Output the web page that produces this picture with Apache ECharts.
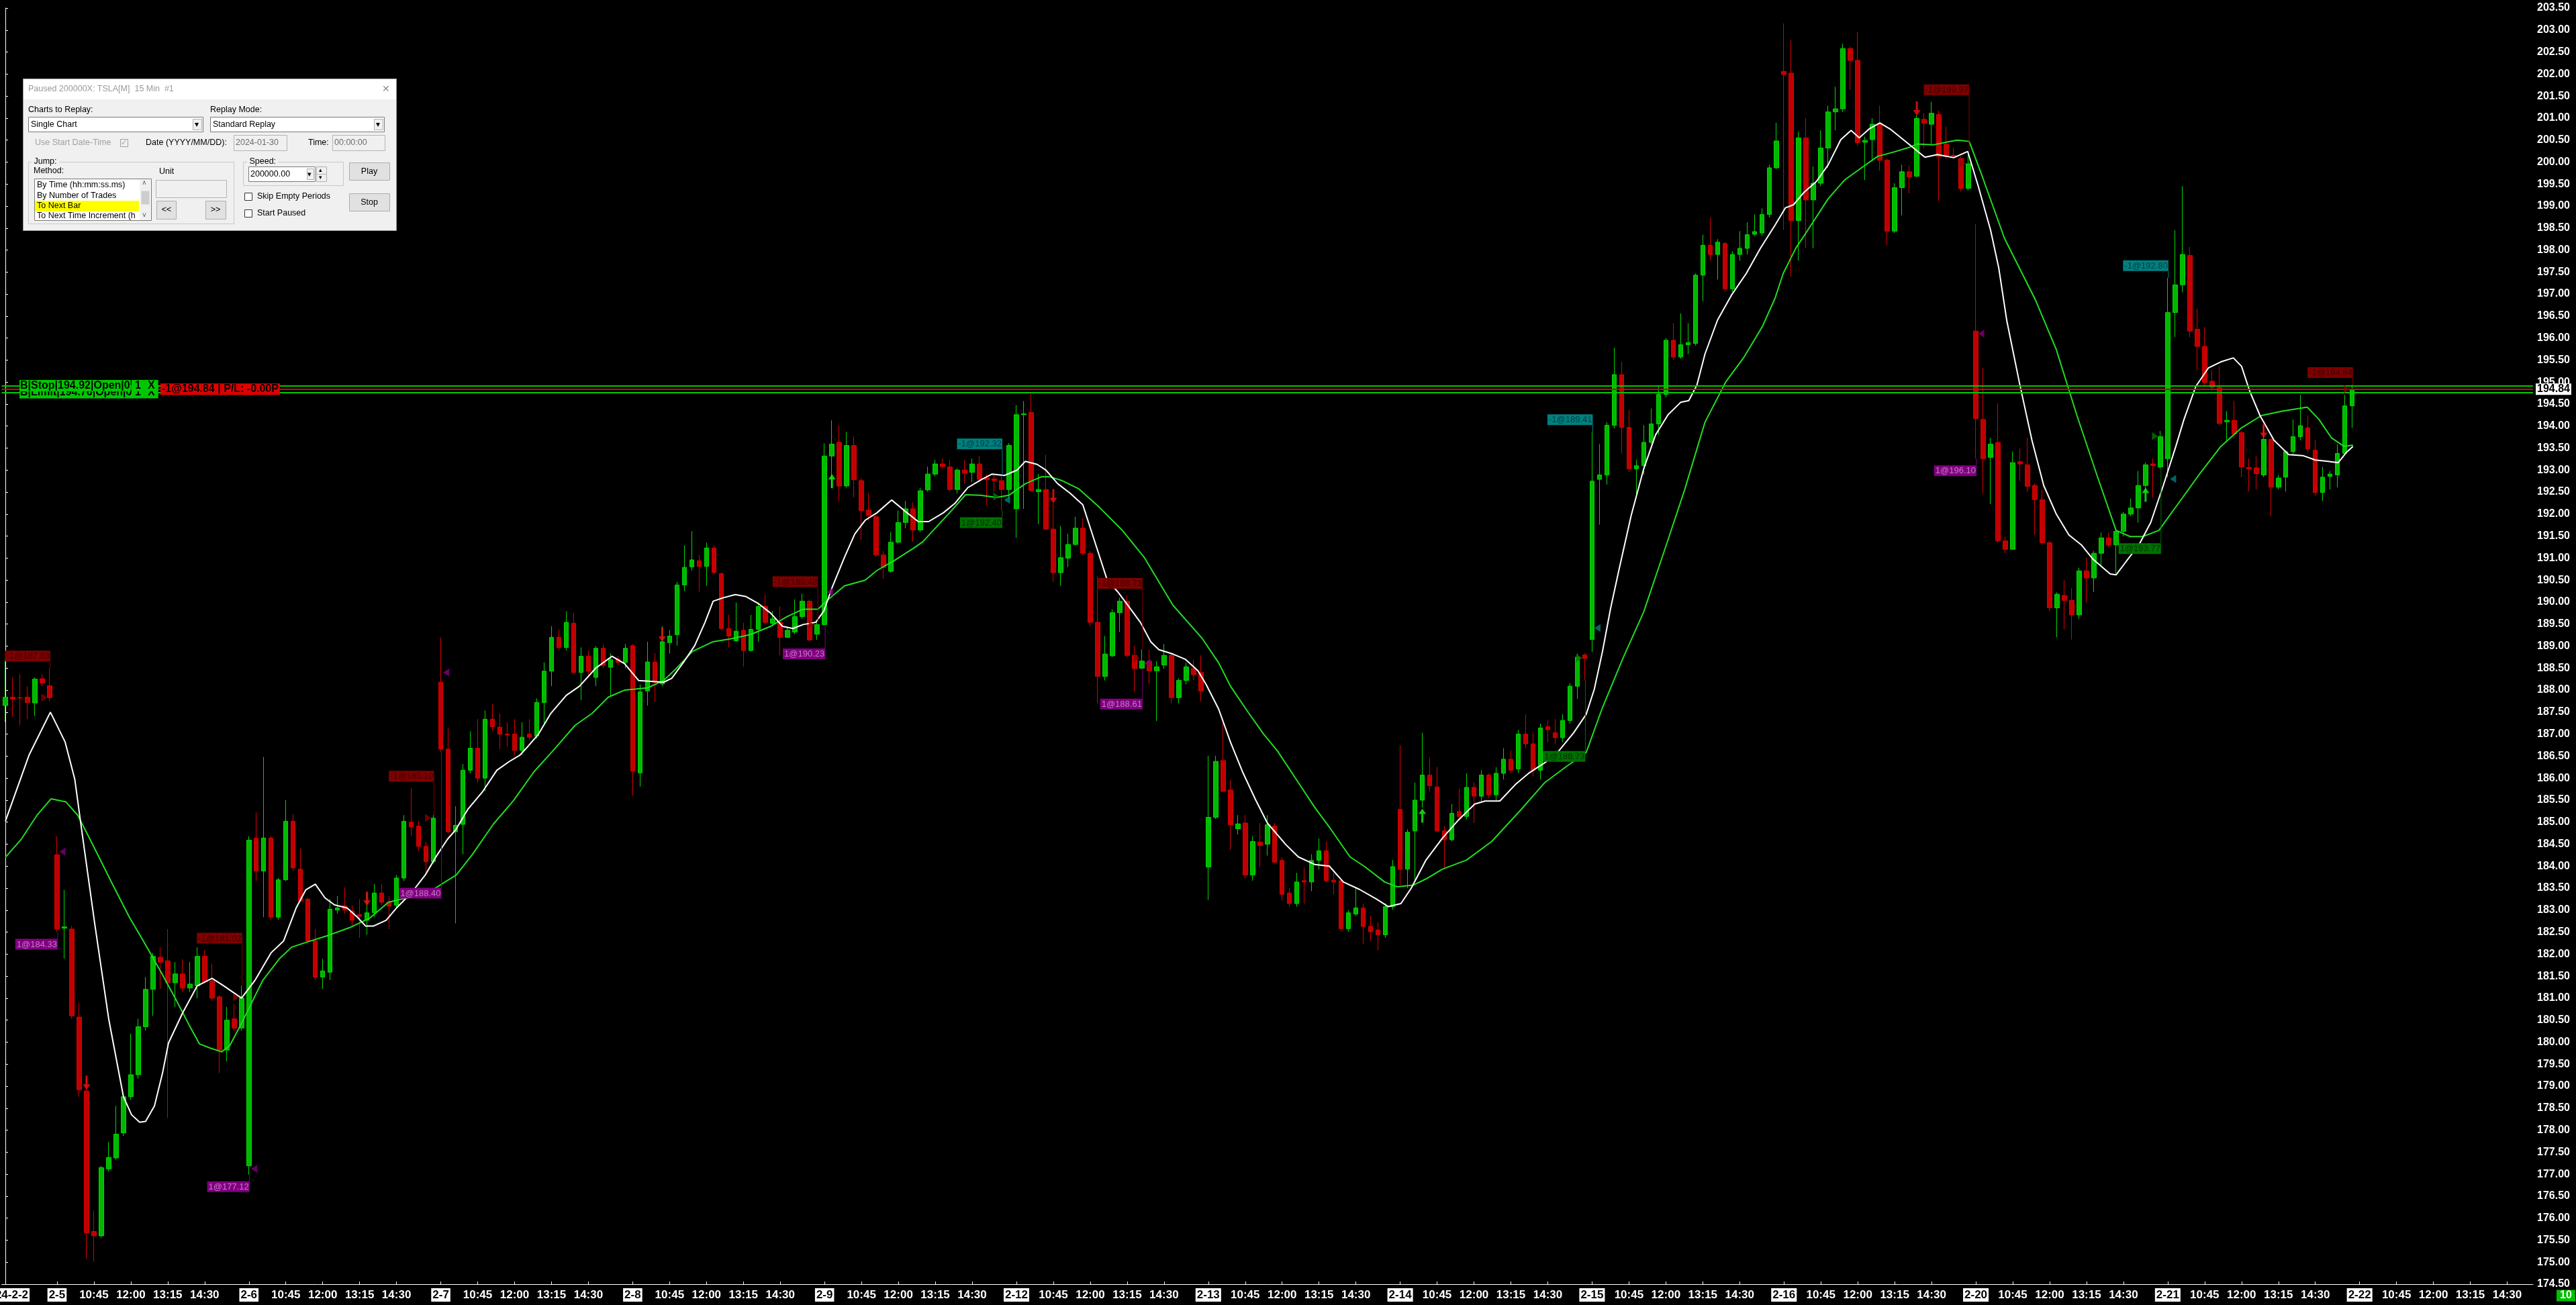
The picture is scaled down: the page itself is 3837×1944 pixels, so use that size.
<!DOCTYPE html>
<html><head><meta charset="utf-8">
<script src="https://cdn.jsdelivr.net/npm/echarts/dist/echarts.min.js"></script>
<style>html,body{margin:0;padding:0;background:#000;overflow:hidden}#c{width:3837px;height:1944px}</style>
</head><body><div id="c"></div>
<script>
// ---------- DATA: bars per day as [open, high, low, close] ----------
const d0202 = [[187.65,188.70,187.27,187.84],[187.84,188.29,187.40,187.80],[187.83,188.36,187.20,187.82],[187.84,188.09,187.34,187.72],[187.71,188.29,187.41,188.25],[188.26,188.36,188.09,188.16],[188.10,188.50,187.75,187.83]];
const d0205 = [[184.26,184.68,182.50,182.57],[182.59,183.46,181.90,182.62],[182.57,182.64,180.53,180.60],[180.57,180.90,178.76,178.92],[178.89,179.17,175.08,175.67],[175.70,176.17,175.01,175.60],[175.60,177.19,175.56,177.15],[177.12,177.73,177.06,177.38],[177.37,178.55,177.33,177.91],[177.94,178.82,177.87,178.76],[178.76,180.19,178.69,179.26],[179.26,180.53,179.17,180.35],[180.35,181.48,180.26,181.20],[181.20,182.03,180.60,181.95],[181.93,182.16,181.21,181.82],[181.85,182.57,178.28,181.35],[181.35,181.82,180.80,181.55],[181.55,181.89,181.14,181.23],[181.23,181.82,181.14,181.32],[181.28,182.16,181.00,181.95],[181.95,182.09,181.34,181.37],[181.39,181.78,180.94,181.00],[181.03,181.07,179.30,179.82],[179.82,180.80,179.57,180.50],[180.53,180.87,180.26,180.32],[180.32,181.28,180.26,181.00]];
const d0206 = [[177.19,184.68,176.99,184.59],[184.64,185.22,183.66,183.89],[183.89,186.48,182.84,184.64],[184.64,184.68,182.78,182.84],[182.84,183.73,182.78,183.69],[183.69,185.50,183.66,185.02],[185.02,185.18,183.89,183.96],[183.93,184.40,183.18,183.21],[183.25,183.28,182.27,182.30],[182.30,182.57,181.41,181.48],[181.48,181.89,181.21,181.62],[181.59,183.25,181.41,183.02],[183.00,183.32,182.92,183.05],[183.10,183.52,182.92,183.00],[182.98,183.11,182.64,182.77],[182.90,183.25,182.37,182.86],[182.77,183.39,182.44,182.94],[182.94,183.59,182.84,183.39],[183.39,183.59,183.11,183.18],[183.18,183.32,182.57,183.09],[183.11,183.80,183.05,183.73],[183.73,185.16,183.66,185.02],[185.00,185.77,184.68,184.89],[184.91,185.02,184.34,184.45],[184.45,184.55,183.86,184.10],[184.10,185.16,184.06,185.09]];
const d0207 = [[188.18,189.20,186.59,186.66],[186.66,187.13,184.75,184.78],[184.78,185.36,182.70,184.93],[184.95,186.32,184.27,186.18],[186.18,187.06,186.11,186.68],[186.68,187.34,185.90,186.00],[186.00,187.54,185.70,187.34],[187.34,187.68,187.07,187.17],[187.16,187.47,186.66,187.00],[187.00,187.27,186.72,186.98],[187.00,187.34,186.52,186.63],[186.63,187.27,186.52,186.93],[187.00,187.34,186.86,186.93],[186.96,187.81,186.90,187.72],[187.72,188.63,187.20,188.43],[188.43,189.45,188.09,189.20],[189.20,189.38,188.90,188.97],[188.97,189.79,188.90,189.54],[189.52,189.75,188.36,188.40],[188.40,188.97,187.77,188.77],[188.77,188.90,188.29,188.43],[188.29,189.00,188.09,188.95],[188.95,189.04,188.50,188.56],[188.52,188.84,187.88,188.69],[188.70,188.77,188.56,188.63],[188.63,189.05,188.50,188.95]];
const d0208 = [[189.01,189.05,185.60,186.16],[186.12,188.13,185.81,187.96],[187.98,189.10,187.65,188.64],[188.64,188.84,187.74,188.18],[188.14,189.45,188.09,189.10],[189.08,189.36,188.83,189.23],[189.26,190.46,189.01,190.39],[190.39,191.29,190.25,190.79],[190.80,191.61,190.72,190.96],[190.94,191.07,190.24,190.81],[190.81,191.35,190.37,191.23],[191.23,191.29,190.63,190.67],[190.65,190.67,189.36,189.40],[189.40,189.71,188.97,189.23],[189.12,189.99,189.10,189.34],[189.36,189.53,188.53,188.90],[188.90,189.71,188.88,189.38],[189.38,189.97,189.10,189.90],[189.90,190.17,189.49,189.54],[189.52,189.80,189.45,189.62],[189.54,189.90,188.79,189.20],[189.20,189.45,189.19,189.36],[189.32,190.06,189.27,189.67],[189.67,190.19,189.62,190.02],[190.02,190.06,189.10,189.14],[189.27,189.54,189.14,189.49]];
const d0209 = [[189.49,193.61,189.47,193.32],[193.32,194.13,192.60,193.59],[193.63,194.02,192.29,192.64],[192.64,193.87,192.60,193.56],[193.56,193.76,192.38,192.78],[192.76,192.82,191.42,192.08],[192.09,192.47,191.86,191.97],[191.94,191.99,191.02,191.07],[191.07,191.16,190.53,190.79],[190.70,191.59,190.67,191.36],[191.36,192.08,191.33,191.81],[191.81,192.30,191.68,192.12],[192.12,192.27,191.37,191.64],[191.64,192.60,191.59,192.53],[192.55,193.08,192.51,192.91],[192.91,193.23,192.86,193.14],[193.14,193.26,193.04,193.08],[193.07,193.23,192.51,192.56],[192.56,193.04,192.47,193.00],[193.00,193.23,192.69,192.93],[192.95,193.26,192.73,193.14],[193.14,193.32,192.73,192.79],[192.82,192.91,192.21,192.78],[192.80,192.91,192.51,192.76],[192.76,192.88,192.08,192.56],[192.56,193.61,192.34,193.56]];
const d0212 = [[192.12,194.48,191.46,194.26],[194.26,194.57,192.12,194.28],[194.31,194.75,192.51,192.54],[192.51,192.91,191.77,192.56],[192.56,193.35,191.64,191.66],[191.66,192.25,190.46,190.67],[190.67,191.73,190.37,191.01],[191.00,191.55,190.80,191.31],[191.31,191.94,191.29,191.68],[191.68,191.90,191.07,191.11],[191.11,191.16,189.45,189.54],[189.54,190.59,187.70,188.31],[188.31,189.23,188.22,188.82],[188.78,189.84,188.75,189.76],[189.76,190.10,189.32,190.02],[190.02,190.15,188.75,188.79],[188.79,189.01,187.96,188.49],[188.50,188.92,188.48,188.66],[188.66,188.92,188.13,188.44],[188.44,188.66,187.30,188.53],[188.57,189.05,188.48,188.79],[188.79,188.84,187.70,187.83],[187.83,188.27,187.70,188.22],[188.22,188.62,188.13,188.53],[188.49,188.70,188.22,188.35],[188.40,188.79,187.74,187.98]];
const d0213 = [[183.98,186.51,183.23,185.11],[185.11,186.51,185.07,186.38],[186.40,187.26,185.68,185.70],[185.73,185.96,184.37,184.94],[184.85,185.16,184.72,184.96],[184.98,185.16,183.71,183.80],[183.80,184.68,183.67,184.56],[184.55,184.98,183.98,184.47],[184.50,185.16,184.24,184.94],[184.91,184.98,184.07,184.09],[184.13,184.20,183.22,183.36],[183.39,183.50,183.08,183.15],[183.15,183.85,183.08,183.64],[183.67,183.97,183.15,183.64],[183.64,184.27,183.43,184.13],[184.13,184.63,183.92,184.35],[184.35,184.56,183.64,183.67],[183.68,183.85,183.36,183.64],[183.67,183.71,182.51,182.58],[182.58,183.00,182.51,182.94],[182.91,183.50,182.87,183.05],[183.05,183.15,182.23,182.63],[182.63,182.87,182.30,182.51],[182.55,182.72,182.09,182.44],[182.44,183.15,182.37,183.08],[183.08,184.14,183.01,183.99]];
const d0214 = [[185.29,186.75,183.57,183.93],[183.93,184.84,183.50,184.77],[184.80,185.90,183.64,185.50],[185.50,187.03,185.33,186.07],[186.07,186.47,185.69,185.83],[185.80,186.25,184.77,184.80],[184.80,184.91,183.93,184.60],[184.60,185.41,184.56,185.20],[185.24,185.76,185.06,185.13],[185.13,186.11,185.06,185.79],[185.79,185.90,184.98,185.59],[185.59,186.18,185.48,186.07],[186.07,186.11,185.55,185.62],[185.62,186.25,185.48,186.11],[186.11,186.68,185.97,186.43],[186.43,186.63,186.11,186.18],[186.21,187.10,186.11,187.00],[187.00,187.45,186.68,186.78],[186.78,187.03,186.04,186.18],[186.18,187.24,185.97,187.14],[187.17,187.31,186.82,187.10],[187.03,187.34,186.77,186.92],[186.92,187.45,186.82,187.31],[187.31,188.16,187.24,188.09],[188.09,188.83,187.80,188.75],[188.80,188.84,188.23,188.72]];
const d0215 = [[189.15,193.87,188.87,192.75],[192.79,193.59,191.76,192.89],[192.89,194.09,192.67,194.02],[194.02,195.78,193.95,195.17],[195.17,195.46,193.38,193.97],[193.97,194.37,192.96,193.03],[193.03,193.24,192.39,193.10],[193.10,194.02,192.89,193.63],[193.63,194.40,193.59,194.05],[194.05,194.93,193.80,194.72],[194.72,196.00,194.65,195.95],[195.95,196.34,195.50,195.57],[195.57,196.56,195.53,195.85],[195.85,196.34,195.64,195.90],[195.88,197.47,195.83,197.43],[197.43,198.35,196.84,198.11],[198.11,198.74,197.76,197.90],[197.90,198.25,197.33,198.18],[198.15,198.18,197.05,197.12],[197.12,197.97,197.05,197.90],[197.90,198.43,197.76,198.04],[198.04,198.63,197.90,198.35],[198.36,198.81,198.32,198.42],[198.39,198.95,198.32,198.81],[198.81,199.94,198.74,199.87],[199.87,200.89,199.84,200.48]];
const d0216 = [[202.06,203.15,198.46,201.99],[202.02,202.77,197.40,198.67],[198.67,200.69,197.76,200.55],[200.55,201.00,198.04,199.14],[199.14,199.90,198.04,199.52],[199.52,200.72,199.45,200.32],[200.32,201.28,199.87,201.14],[201.14,201.71,200.72,201.21],[201.21,202.69,201.14,202.58],[202.58,202.62,201.64,202.31],[202.31,202.95,200.37,200.44],[200.45,200.58,199.59,200.49],[200.51,201.00,200.02,200.86],[200.86,201.28,199.80,200.04],[200.04,200.08,198.11,198.43],[198.43,199.52,198.39,199.42],[199.42,199.94,198.79,199.78],[199.78,199.92,199.29,199.66],[199.68,201.06,199.66,200.99],[200.97,201.11,200.31,200.88],[200.86,201.37,200.41,201.11],[201.08,201.17,199.12,200.13],[200.41,200.80,200.08,200.13],[200.15,200.33,200.08,200.12],[200.08,200.13,199.33,199.40],[199.40,200.22,199.36,199.96]];
const d0220 = [[196.16,198.59,193.26,194.17],[194.15,195.32,192.47,193.26],[193.29,193.73,192.23,193.59],[193.63,194.52,191.35,191.39],[191.39,191.49,191.11,191.20],[191.20,193.42,191.20,193.17],[193.19,193.49,192.75,193.14],[193.12,193.73,192.51,192.63],[192.65,192.70,191.53,192.33],[192.33,192.56,191.30,191.35],[191.35,191.39,189.80,189.87],[189.87,190.22,189.20,190.18],[190.15,190.50,189.38,190.04],[190.04,190.32,189.15,189.71],[189.71,190.78,189.62,190.71],[190.71,191.02,189.99,190.55],[190.55,191.16,190.23,191.11],[191.11,191.58,190.83,191.46],[191.46,191.58,191.25,191.30],[191.30,191.67,190.65,191.61],[191.61,192.05,191.49,192.00],[192.00,192.35,191.95,192.14],[192.14,192.98,191.81,192.65],[192.65,193.17,192.51,193.12],[193.14,193.26,192.37,193.10],[193.07,193.89,193.03,193.76]];
const d0221 = [[193.26,197.37,192.84,196.58],[196.58,198.45,196.02,197.21],[197.21,199.45,197.04,197.90],[197.88,198.07,196.02,196.16],[196.20,196.67,195.27,195.81],[195.81,196.25,194.90,194.99],[195.02,195.27,194.80,194.88],[194.88,195.36,194.01,194.06],[194.10,194.34,193.63,194.13],[194.13,194.57,193.73,193.82],[193.85,193.89,192.84,193.07],[193.06,193.26,192.51,193.03],[193.05,193.31,192.56,192.92],[192.89,194.01,192.84,193.70],[193.70,193.73,191.95,192.61],[192.61,192.89,192.56,192.82],[192.84,193.45,192.51,193.42],[193.42,194.15,193.35,193.76],[193.76,194.71,193.68,194.01],[193.96,194.24,193.40,193.48],[193.45,193.68,192.42,192.49],[192.49,193.07,192.30,192.84],[192.86,192.98,192.56,192.91],[192.89,193.59,192.61,193.38],[193.38,194.71,193.35,194.46],[194.46,194.94,193.96,194.84]];

// moving averages: [bar index, price]
const maWhite = [[0,185.02],[3.2,186.52],[6.1,187.5],[8.1,186.82],[9.4,185.98],[10.4,184.75],[12.1,182.7],[14,180.53],[16,178.76],[17.1,178.35],[18.2,178.18],[19,178.2],[20.2,178.55],[21.3,179.3],[22.1,179.98],[24,180.66],[26,181.28],[28,181.45],[29.6,181.28],[32,181.0],[33.8,181.4],[36,182.03],[37.7,182.3],[39.4,183.05],[40.7,183.46],[42,183.59],[43.3,183.28],[44.6,183.12],[46.3,183.05],[47.7,182.84],[48.8,182.64],[49.9,182.64],[51.6,182.77],[53,183.05],[55,183.39],[56.9,183.8],[58.3,184.2],[59.9,184.61],[61,184.82],[62.7,185.3],[64.7,185.7],[66.6,186.18],[68.3,186.38],[69.7,186.52],[70.8,186.72],[72.2,186.99],[73.9,187.47],[76,187.88],[77.8,188.09],[80,188.5],[82.2,188.77],[83.9,188.6],[85.8,188.22],[87.5,188.2],[89.2,188.18],[90.3,188.27],[92,188.66],[93.4,189.01],[94.8,189.54],[95.9,190.02],[97.3,190.1],[98.9,190.17],[100.3,190.13],[102,189.97],[103.7,189.75],[105.3,189.45],[106.7,189.4],[108.1,189.49],[109.8,189.54],[110.9,189.8],[112,190.32],[113.7,191.02],[115.1,191.55],[116.5,191.86],[118.1,192.03],[120.1,192.32],[121.8,192.08],[123.7,191.83],[125.1,191.83],[127.1,192.03],[128.7,192.25],[130.4,192.6],[132.3,192.79],[133.7,192.91],[135.4,192.88],[137.1,193.0],[138.2,193.2],[139.8,193.13],[141,193.0],[142.6,192.69],[144.3,192.47],[146,192.21],[147.1,191.64],[148.2,191.07],[149.3,190.5],[150.7,190.24],[152.1,189.93],[153.8,189.54],[155.2,189.1],[156.3,188.92],[158.2,188.82],[159.9,188.7],[161.6,188.44],[162.7,188.13],[164.4,187.57],[166,186.82],[167.7,186.12],[169.4,185.51],[171,184.98],[173.5,184.49],[175.2,184.21],[177.4,184.04],[179.4,184.0],[181.3,183.64],[183.5,183.47],[185.8,183.25],[187.4,183.08],[189.1,183.15],[190.5,183.5],[192.5,184.14],[194.7,184.63],[196.9,185.05],[199.1,185.41],[200.5,185.48],[202.5,185.48],[204.7,185.87],[206.4,186.11],[208.6,186.35],[210.3,186.58],[212.5,187.03],[214.2,187.45],[215.3,188.02],[216.4,188.87],[217.5,189.85],[218.6,190.7],[220.3,191.97],[222,193.03],[223.6,193.8],[225.3,194.26],[227,194.54],[228.1,194.58],[229.2,194.93],[230.3,195.64],[232,196.41],[233.9,196.98],[235.9,197.47],[237.8,198.04],[239.8,198.57],[241.2,198.96],[242.3,199.03],[243.7,199.31],[245.4,199.56],[247,199.94],[248.7,200.51],[250.1,200.72],[251.2,200.55],[252.6,200.76],[254,200.89],[255.4,200.75],[257.9,200.41],[260.1,200.11],[261.8,200.17],[264,200.1],[265.9,200.24],[267.3,199.47],[269,198.45],[270.1,197.6],[271.2,196.39],[272.9,194.99],[274.6,193.68],[276.2,192.65],[277.9,192.0],[279.6,191.53],[281.3,191.3],[282.9,190.97],[285.2,190.64],[286,190.62],[287.4,190.93],[289.1,191.3],[290.7,191.81],[292.4,192.65],[294.1,193.54],[295.2,194.15],[296.8,194.9],[298.5,195.32],[300.2,195.46],[301.9,195.55],[303,195.36],[304.1,194.8],[305.5,194.24],[307.4,193.68],[309.4,193.35],[311.3,193.33],[313,193.23],[314.7,193.2],[316.1,193.17],[317.2,193.4],[318.1,193.54]];
const maGreen = [[0,184.2],[2.1,184.6],[4.3,185.16],[6.2,185.53],[8.2,185.46],[9.8,185.16],[12.1,184.4],[14.3,183.66],[16.8,182.84],[18.7,182.3],[21,181.62],[23.2,180.94],[24.9,180.39],[26.3,179.96],[27.7,179.87],[29.3,179.78],[30.4,179.92],[32.1,180.46],[33.5,180.94],[34.9,181.41],[37.1,181.89],[38.8,182.16],[40.8,182.27],[43.8,182.43],[46.6,182.6],[49.4,182.82],[51.9,183.18],[54.4,183.28],[56.6,183.32],[59.1,183.59],[61.1,183.8],[63.3,184.27],[66.1,184.95],[68.9,185.5],[71.6,186.14],[74.4,186.66],[77.2,187.2],[79.5,187.47],[81.7,187.84],[83.9,188.0],[87,188.05],[89.2,188.22],[90.9,188.49],[93.1,188.88],[95.9,189.1],[98.1,189.16],[100.9,189.26],[103.7,189.45],[105.9,189.67],[108.1,189.84],[110.1,189.84],[111.5,190.06],[113.7,190.37],[116.5,190.5],[118.1,190.72],[120.4,190.94],[123.2,191.24],[124.3,191.37],[126,191.68],[128.2,192.08],[130.1,192.44],[132.1,192.43],[134.3,192.38],[136,192.43],[138.2,192.69],[140.4,192.85],[141.5,192.85],[143.2,192.76],[145.4,192.58],[148.2,192.16],[151.3,191.64],[154.3,191.02],[158.2,189.93],[162.1,189.19],[164.4,188.62],[166,188.09],[168.3,187.52],[170.5,187.0],[172.4,186.61],[175.2,185.9],[177.4,185.34],[179.6,184.84],[182.2,184.21],[184.1,184.0],[186.9,183.64],[188.6,183.53],[190.8,183.57],[192.5,183.71],[194.7,183.93],[198,184.14],[201.4,184.56],[205.3,185.27],[208.6,185.9],[211.4,186.25],[214.2,186.58],[216.4,187.6],[219.2,188.73],[222,189.78],[224.7,191.12],[227.5,192.53],[230.3,194.09],[233.1,195.0],[235.6,195.57],[238.1,196.27],[239.8,196.91],[240.9,197.47],[242.6,198.04],[244.8,198.6],[247,199.17],[249.2,199.59],[251.5,199.87],[253.7,200.13],[255.9,200.23],[257.9,200.33],[259,200.41],[261.2,200.39],[262.9,200.45],[264.5,200.5],[266.1,200.47],[267.9,199.66],[270.9,198.26],[275.1,196.86],[277.9,195.74],[280.7,194.24],[283.5,192.84],[286,191.63],[287.9,191.49],[289.6,191.49],[291.8,191.63],[294.6,192.28],[297.4,192.93],[300.2,193.54],[303,193.96],[305.7,194.24],[308.5,194.34],[311.9,194.43],[313.5,194.15],[315.2,193.73],[316.9,193.54],[318.1,193.57]];

// trades: bar index, fill price, kind (S sell, B buy, TS target-sell, GB green buy)
const tradeBars   = [6, 7, 32, 33, 58, 59, 110, 111, 135, 135, 154, 154, 215, 214, 266, 267, 293, 292, 318];
const tradePrices = [187.83, 184.33, 181.02, 177.12, 185.10, 188.40, 189.48, 190.23, 192.32, 192.40, 188.73, 188.61, 189.41, 188.73, 199.97, 196.10, 192.80, 193.77, 194.84];
const tradeKinds  = ['S','B','S','B','S','B','S','B','TS','GB','S','B','TS','GB','S','B','TS','GB','S'];
// signal arrows: [bar index, tip price]
const sigDown = [[11,178.92],[49,183.1],[89,189.1],[142,192.25],[259,201.06],[306,193.73]];
const sigUp   = [[112,192.91],[192,185.31],[290,192.6]];
// working orders
const stopPrice = 194.92, limitPrice = 194.76, posPrice = 194.84;
// axis labels
const firstLabel = '2024-2-2';
const dayLabels = ['2-5','2-6','2-7','2-8','2-9','2-12','2-13','2-14','2-15','2-16','2-20','2-21','2-22'];
const timeLabels = ['10:45','12:00','13:15','14:30'];
const yMin = 174.5, yMax = 203.5, yStep = 0.5;

// ---------- build ----------
const bars = [].concat(d0202, d0205, d0206, d0207, d0208, d0209, d0212, d0213, d0214, d0215, d0216, d0220, d0221);
const NSLOT = 343, FIRSTDAY = d0202.length, PERDAY = 26;
const cats = [], xLabels = [];
for (let i = 0; i < NSLOT; i++) {
  cats.push(String(i));
  let lab = '';
  if (i === 0) lab = firstLabel;
  else if (i >= FIRSTDAY) {
    const d = i - FIRSTDAY, day = Math.floor(d / PERDAY), off = d % PERDAY;
    if (day < dayLabels.length) {
      if (off === 0) lab = dayLabels[day];
      else if (off % 5 === 0 && off / 5 <= 4) lab = timeLabels[off / 5 - 1];
    }
  }
  xLabels.push(lab);
}
const isDate = s => s.indexOf(':') < 0;
const candleData = bars.map(b => [b[0], b[3], b[2], b[1]]);

const NARROW = '"Liberation Sans Narrow","Arial Narrow","Liberation Sans",Arial,sans-serif';
const SANS = '"Liberation Sans",Arial,sans-serif';
const showIdx = (idx) => xLabels[idx] !== '';

const kindStyle = {
  S:  {bg:'#800000', fg:'#3a0000', tri:'#8a0000', right:false},
  B:  {bg:'#800080', fg:'#c878c8', tri:'#800080', right:true},
  TS: {bg:'#008080', fg:'#003c3c', tri:'#008080', right:true},
  GB: {bg:'#007000', fg:'#003000', tri:'#007800', right:false}
};
const triRightPath = 'path://M0,0 L10,6 L0,12 Z';
const triLeftPath  = 'path://M10,0 L0,6 L10,12 Z';
const triData = tradeBars.map((b, k) => {
  const st = kindStyle[tradeKinds[k]];
  return {value:[b, tradePrices[k]], symbol: st.right ? triLeftPath : triRightPath,
          symbolOffset:[st.right ? 8 : -8, 0], itemStyle:{color: st.tri}};
});

const chart = echarts.init(document.getElementById('c'), null, {renderer:'canvas', width:3837, height:1944});
const option = {
  animation: false,
  backgroundColor: '#000',
  grid: {left: 2.5, right: 64, top: 12, bottom: 31, containLabel: false, outerBoundsMode: 'none'},
  xAxis: [{
    type:'category', data: cats, boundaryGap: true,
    axisLine:{show:true, lineStyle:{color:'#ffffff', width:1}},
    axisTick:{show:true, inside:true, length:4, interval: showIdx, alignWithLabel:true, lineStyle:{color:'#ffffff'}},
    axisLabel:{show:true, interval: showIdx, hideOverlap:false, margin:6,
      formatter:(v, idx) => { const s = xLabels[+v]; if (!s) return ''; return isDate(s) ? '{d|' + s + '}' : '{t|' + s + '}'; },
      rich:{
        d:{color:'#000', backgroundColor:'#ffffff', fontFamily:NARROW, fontWeight:'bold', fontSize:17, padding:[2,2,1,2]},
        t:{color:'#ffffff', fontFamily:NARROW, fontWeight:'bold', fontSize:17, padding:[2,0,1,0]}
      }},
    splitLine:{show:false}
  },{
    type:'value', min:-0.5, max:NSLOT - 0.5, show:false
  }],
  yAxis: {
    type:'value', position:'right', min:yMin, max:yMax, interval:yStep, scale:true,
    axisLine:{show:true, lineStyle:{color:'#ffffff', width:1}},
    axisTick:{show:true, length:4, lineStyle:{color:'#ffffff'}},
    axisLabel:{color:'#ffffff', fontFamily:SANS, fontWeight:'bold', fontSize:16, margin:6, formatter: v => v.toFixed(2)},
    splitLine:{show:false}
  },
  series: [
    {type:'candlestick', name:'TSLA', data: candleData, barWidth: 7,
     itemStyle:{color:'#00b800', color0:'#c00000', borderColor:'#00d800', borderColor0:'#d80000', borderWidth:1},
     markLine:{silent:true, symbol:['none','none'], label:{show:false}, animation:false,
       data:[
         {yAxis: stopPrice, lineStyle:{color:'#00c800', width:2, type:'solid'}},
         {yAxis: limitPrice, lineStyle:{color:'#00c800', width:2, type:'solid'}},
         {yAxis: posPrice, lineStyle:{color:'#e00000', width:2, type:'solid'}}
       ]}
    },
    {type:'line', name:'MA slow', xAxisIndex:1, data: maGreen, showSymbol:false, smooth:false,
     lineStyle:{color:'#22dd22', width:2}, z:3},
    {type:'line', name:'MA fast', xAxisIndex:1, data: maWhite, showSymbol:false, smooth:false,
     lineStyle:{color:'#ffffff', width:2}, z:4},
    {type:'scatter', name:'fills', xAxisIndex:1, data: triData, symbolSize:[9,12], z:5},
    {type:'scatter', name:'sell signal', xAxisIndex:1, data: sigDown,
     symbol:'path://M4,0 L7,0 L7,13 L11,13 L5.5,21 L0,13 L4,13 Z', symbolSize:[11,21], symbolOffset:[0,-10.5],
     itemStyle:{color:'#ff1010'}, z:6},
    {type:'scatter', name:'buy signal', xAxisIndex:1, data: sigUp,
     symbol:'path://M5.5,0 L11,8 L7,8 L7,21 L4,21 L4,8 L0,8 Z', symbolSize:[11,21], symbolOffset:[0,10.5],
     itemStyle:{color:'#10ff10'}, z:6}
  ]
};
chart.setOption(option);

// ---------- overlays positioned through the axes ----------
const yp = v => chart.convertToPixel({yAxisIndex:0}, v);
const xp = i => chart.convertToPixel({xAxisIndex:0}, i);
const g = [];
// trade labels
tradeBars.forEach((bi, k) => {
  const kind = tradeKinds[k], st = kindStyle[kind];
  const sell = kind === 'S' || kind === 'TS';
  const txt = (sell ? '-1@' : '1@') + tradePrices[k].toFixed(2);
  let ext = sell ? -Infinity : Infinity;
  for (let j = Math.max(0, bi - 5); j <= bi; j++) { const b = bars[j]; if (!b) continue; ext = sell ? Math.max(ext, b[1]) : Math.min(ext, b[2]); }
  const bx = xp(bi), ey = yp(ext);
  const ly = sell ? ey - 10 : ey + 10;
  g.push({type:'line', shape:{x1:bx+1, y1:ly, x2:bx+1, y2: sell ? yp(bars[bi][1]) : yp(bars[bi][2])}, style:{stroke:st.bg, lineWidth:1}, z:50});
  g.push({type:'text', x: bx + 1, y: ly, z:51,
    style:{text: txt, align:'right', verticalAlign: sell ? 'bottom' : 'top', fill: st.fg, backgroundColor: st.bg,
           padding:[2,1,1,2], font:'13px ' + SANS}});
});
// working order tags at left
const orderTag = (y, parts) => {
  parts.forEach(p => g.push({type:'text', x:p.x, y:y, z:60,
    style:{text:p.t, fill:'#000', backgroundColor:p.bg, padding:p.pad || [1,1,0,1], verticalAlign:'middle', align:'left', font:'bold 16px ' + SANS}}));
};
orderTag(yp(limitPrice), [{x:29, t:'B|Limit|' + limitPrice.toFixed(2) + '|Open|0', bg:'#00c800'}, {x:196, t:'1', bg:'#00c800', pad:[1,5,0,5]}, {x:215, t:'X', bg:'#00c800', pad:[1,5,0,5]}]);
orderTag(yp(stopPrice), [{x:29, t:'B|Stop|' + stopPrice.toFixed(2) + '|Open|0', bg:'#00c800'}, {x:196, t:'1', bg:'#00c800', pad:[1,5,0,5]}, {x:215, t:'X', bg:'#00c800', pad:[1,5,0,5]}]);
g.push({type:'text', x:239, y: yp(posPrice), z:61, style:{text:'-1@' + posPrice.toFixed(2) + ' | P/L: -0.00P', fill:'#000', backgroundColor:'#e00000', padding:[1,2,0,2], verticalAlign:'middle', font:'bold 16px ' + SANS}});
// current price on axis
g.push({type:'text', x:3777, y: yp(posPrice), z:62, style:{text: posPrice.toFixed(2), fill:'#000', backgroundColor:'#ffffff', padding:[1,2,0,2], verticalAlign:'middle', font:'bold 16px ' + SANS}});
// bar counter box
g.push({type:'text', x:3808, y:1930, z:62, style:{text:'10', fill:'#ffffff', backgroundColor:'#00c000', padding:[1,5,0,5], verticalAlign:'middle', font:'bold 16px ' + SANS}});

// replay dialog
const F = '12.5px ' + SANS;
const R = (x, y, w, h, fill, stroke) => g.push({type:'rect', z:100, shape:{x, y, width:w, height:h}, style:{fill: fill || 'none', stroke: stroke || null, lineWidth:1}});
const T = (x, y, t, color, extra) => g.push({type:'text', z:101, x, y, style:Object.assign({text:t, fill: color || '#000', font:F, verticalAlign:'middle'}, extra || {})});
R(34.5, 117.5, 556, 226, '#f0f0f0', '#9a9a9a');
R(35, 118, 555, 30, '#ffffff', null);
T(42, 133, 'Paused 200000X: TSLA[M]  15 Min  #1', '#9a9a9a');
T(569, 133, '\u2715', '#8a8a8a', {font:'14px ' + SANS});
T(42, 164, 'Charts to Replay:');
R(42.5, 174.5, 260, 22, '#ffffff', '#7a7a7a');
T(46, 186, 'Single Chart');
R(287.5, 177.5, 13, 16, '#f0f0f0', '#b0b0b0'); T(290, 186, '\u25BE', '#000', {font:'12px ' + SANS});
T(313, 164, 'Replay Mode:');
R(313.5, 174.5, 259, 22, '#ffffff', '#7a7a7a');
T(317, 186, 'Standard Replay');
R(557.5, 177.5, 13, 16, '#f0f0f0', '#b0b0b0'); T(560, 186, '\u25BE', '#000', {font:'12px ' + SANS});
T(52, 213, 'Use Start Date-Time', '#a0a0a0');
R(179.5, 207.5, 11, 11, '#f0f0f0', '#a0a0a0'); T(180, 213, '\u2713', '#a0a0a0', {font:'11px ' + SANS});
T(217, 213, 'Date (YYYY/MM/DD):');
R(348.5, 201.5, 79, 23, '#f0f0f0', '#b4b4b4'); T(351, 213, '2024-01-30', '#6d6d6d');
T(459, 213, 'Time:');
R(495.5, 201.5, 78, 23, '#f0f0f0', '#b4b4b4'); T(498, 213, '00:00:00', '#6d6d6d');
R(42.5, 241.5, 306, 92, null, '#c8c8c8');
T(47, 241, ' Jump: ', '#000', {backgroundColor:'#f0f0f0'});
T(50, 255, 'Method:');
T(237, 256, 'Unit');
R(51.5, 266.5, 174, 62, '#ffffff', '#7a7a7a');
T(55, 276, 'By Time (hh:mm:ss.ms)');
T(55, 292, 'By Number of Trades');
R(52, 299, 155, 16, '#ffff00', null);
T(55, 307, 'To Next Bar');
T(55, 322, 'To Next Time Increment (h');
R(208.5, 267.5, 16, 60, '#f0f0f0', null);
R(210.5, 284.5, 12, 20, '#cdcdcd', null);
T(212, 273, '\u02C4', '#444', {font:'10px ' + SANS}); T(212, 321, '\u02C5', '#444', {font:'10px ' + SANS});
R(232.5, 268.5, 105, 26, '#f0f0f0', '#b4b4b4');
R(233.5, 299.5, 29, 27, '#e1e1e1', '#adadad'); T(248, 313, '<<', '#000', {align:'center'});
R(306.5, 299.5, 30, 27, '#e1e1e1', '#adadad'); T(321, 313, '>>', '#000', {align:'center'});
R(362.5, 241.5, 149, 35, null, '#c8c8c8');
T(368, 241, ' Speed: ', '#000', {backgroundColor:'#f0f0f0'});
R(370.5, 248.5, 99, 22, '#ffffff', '#7a7a7a'); T(373, 260, '200000.00');
R(457.5, 251.5, 10, 16, '#f0f0f0', '#b0b0b0'); T(458, 260, '\u25BE', '#000', {font:'11px ' + SANS});
R(471.5, 248.5, 15, 11, '#f0f0f0', '#b0b0b0'); R(471.5, 259.5, 15, 11, '#f0f0f0', '#b0b0b0');
T(475, 254, '\u25B4', '#000', {font:'9px ' + SANS}); T(475, 265, '\u25BE', '#000', {font:'9px ' + SANS});
R(520.5, 242.5, 60, 26, '#e1e1e1', '#adadad'); T(550, 256, 'Play', '#000', {align:'center'});
R(364.5, 287.5, 11, 11, '#ffffff', '#333333'); T(383, 293, 'Skip Empty Periods');
R(364.5, 312.5, 11, 11, '#ffffff', '#333333'); T(383, 318, 'Start Paused');
R(520.5, 288.5, 60, 26, '#e1e1e1', '#adadad'); T(550, 302, 'Stop', '#000', {align:'center'});

chart.setOption({graphic: g});
</script>
</body></html>
